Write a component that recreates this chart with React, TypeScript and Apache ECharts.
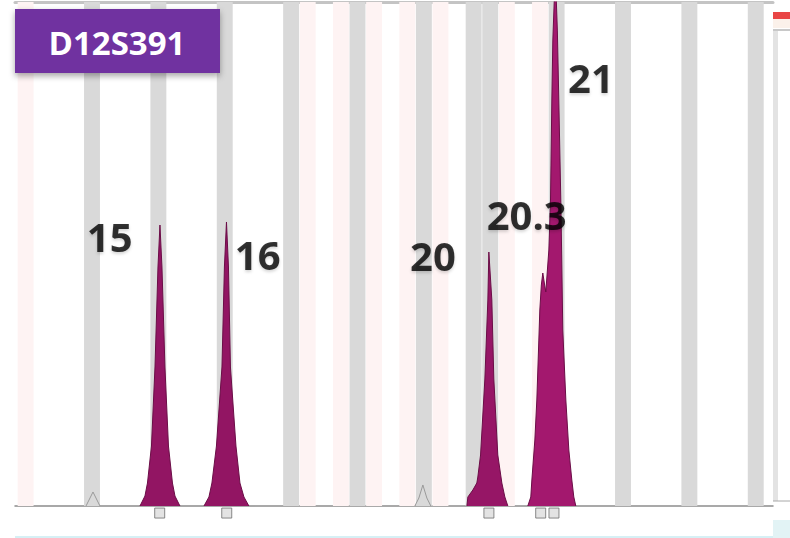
import React, { useEffect, useRef } from "react";
import * as echarts from "echarts";

// x in repeat units (allele scale), y in RFU
const xMin = 12.84;
const xMax = 24.26;
const yMin = -600;
const yMax = 10000;

const locusName = "D12S391";

const grayBins = ["14", "15", "16", "17", "18", "19", "19.3", "20", "21", "22", "23", "24"];
const pinkBins = ["13", "17.1", "17.3", "18.1", "18.3", "19.1", "20.1", "20.3"];

const peak15: [number, number][] = [
  [14.723, 0], [14.798, 198], [14.836, 456], [14.896, 1190], [14.949, 2758], [14.994, 4742],
  [15.024, 5575], [15.054, 4742], [15.099, 2758], [15.152, 1190], [15.212, 456], [15.25, 198], [15.325, 0],
];
const peak16: [number, number][] = [
  [15.687, 0], [15.762, 179], [15.807, 456], [15.875, 1190], [15.958, 2758], [15.995, 4742],
  [16.026, 5635], [16.056, 4742], [16.086, 2758], [16.169, 1190], [16.229, 456], [16.289, 179], [16.364, 0],
];
const peak20: [number, number][] = [
  [19.648, 0], [19.663, 179], [19.738, 317], [19.798, 456], [19.813, 575], [19.854, 1012], [19.919, 2520],
  [19.964, 4087], [19.979, 5039], [20.024, 4087], [20.054, 2520], [20.114, 1012], [20.175, 456], [20.22, 179], [20.265, 0],
];
const peak20_3and21: [number, number][] = [
  [20.566, 0], [20.611, 179], [20.627, 516], [20.672, 1309], [20.702, 2103], [20.732, 3293], [20.747, 3889],
  [20.77, 4385], [20.792, 4623], [20.815, 4424], [20.837, 4246], [20.883, 5079], [20.908, 6071], [20.928, 8055],
  [20.943, 9245], [20.98, 10600], [21.011, 9443], [21.033, 8055], [21.063, 6071], [21.075, 5079], [21.093, 3492],
  [21.139, 2103], [21.184, 1111], [21.229, 516], [21.259, 179], [21.289, 0],
];
const stutter14: [number, number][] = [[13.91, 0], [13.97, 159], [14.015, 278], [14.06, 159], [14.12, 0]];
const stutter19: [number, number][] = [[18.864, 0], [18.925, 159], [18.985, 417], [19.045, 159], [19.105, 0]];

const calledAlleles = ["15", "16", "20", "20.3", "21"];
const calledPositions = [15.02, 16.03, 19.98, 20.76, 20.96];
const calledHeights = [5575, 5635, 5039, 4623, 10600];

const labelOffsets: [number, number][] = [[-50, 11], [31, 33], [-56, 3], [-14, -59], [37, 106]];

function alleleToX(name: string): number {
  const [i, d] = name.split(".");
  return Number(i) + (d ? Number(d) / 4 : 0);
}

const binHalf = 0.12;

export default function App() {
  const ref = useRef<HTMLDivElement>(null);
  useEffect(() => {
    if (!ref.current) return;
    const chart = echarts.init(ref.current, null, { renderer: "svg" });

    const binAreas = [
      ...pinkBins.map((b) => [
        { xAxis: alleleToX(b) - binHalf, yAxis: 0, itemStyle: { color: "#FEF3F3" } },
        { xAxis: alleleToX(b) + binHalf, yAxis: yMax },
      ]),
      ...grayBins.map((b) => [
        { xAxis: alleleToX(b) - binHalf, yAxis: 0, itemStyle: { color: "#D9D9D9" } },
        { xAxis: alleleToX(b) + binHalf, yAxis: yMax },
      ]),
    ];

    const peakSeries = (name: string, data: [number, number][], fill: string) => ({
      name,
      type: "line",
      data,
      symbol: "none",
      smooth: false,
      z: 4,
      lineStyle: { color: "#6B0D47", width: 1 },
      areaStyle: { color: fill, opacity: 1, origin: "auto" },
      silent: true,
    });

    chart.setOption({
      animation: false,
      backgroundColor: "#ffffff",
      grid: { left: 15, right: 17, top: 2, bottom: 1.76 },
      xAxis: [
        {
          type: "value",
          min: xMin,
          max: xMax,
          axisLine: { show: true, onZero: true, lineStyle: { color: "#8C8C8C", width: 1.5 } },
          axisTick: { show: false },
          axisLabel: { show: false },
          splitLine: { show: false },
        },
        {
          type: "value",
          position: "top",
          min: xMin,
          max: xMax,
          axisLine: { show: true, onZero: false, lineStyle: { color: "#C4C4C4", width: 3 } },
          axisTick: { show: false },
          axisLabel: { show: false },
          splitLine: { show: false },
        },
      ],
      yAxis: {
        type: "value",
        min: yMin,
        max: yMax,
        show: false,
        splitLine: { show: false },
      },
      series: [
        {
          name: "bins",
          type: "line",
          data: [[xMin, 0], [xMax, 0]],
          symbol: "none",
          lineStyle: { opacity: 0 },
          silent: true,
          z: 1,
          markArea: { silent: true, data: binAreas },
        },
        {
          name: "stutter",
          type: "line",
          data: stutter14,
          symbol: "none",
          lineStyle: { color: "#9A9A9A", width: 1 },
          z: 3,
          silent: true,
        },
        {
          name: "stutter19",
          type: "line",
          data: stutter19,
          symbol: "none",
          lineStyle: { color: "#9A9A9A", width: 1 },
          z: 3,
          silent: true,
        },
        peakSeries("15", peak15, "#921563"),
        peakSeries("16", peak16, "#921563"),
        peakSeries("20", peak20, "#961666"),
        peakSeries("20.3/21", peak20_3and21, "#A3186E"),
        {
          name: "markers",
          type: "scatter",
          symbol: "rect",
          symbolSize: [10, 10],
          data: calledPositions.map((x) => [x, -140]),
          itemStyle: { color: "#DCDCDC", borderColor: "#6E6E6E", borderWidth: 1 },
          z: 5,
          silent: true,
        },
        {
          name: "labels",
          type: "scatter",
          symbolSize: 0,
          clip: false,
          z: 10,
          silent: true,
          data: calledAlleles.map((a, i) => ({
            value: [calledPositions[i], calledHeights[i]],
            label: {
              show: true,
              formatter: a,
              position: "inside",
              offset: labelOffsets[i],
              fontFamily: "Open Sans",
              fontWeight: 700,
              fontSize: 40,
              color: "#000000",
              textShadowColor: "rgba(0,0,0,0.2)",
              textShadowBlur: 3,
              textShadowOffsetY: 2,
            },
          })),
        },
      ],
      graphic: [
        { type: "line", shape: { x1: 15, y1: 537, x2: 773, y2: 537 }, style: { stroke: "#D6F0F5", lineWidth: 2 }, silent: true },
        { type: "rect", shape: { x: 773, y: 12, width: 17, height: 7 }, style: { fill: "#E94545" }, silent: true },
        { type: "rect", shape: { x: 773, y: 19, width: 17, height: 9 }, style: { fill: "#FBF1EA" }, silent: true },
        { type: "rect", shape: { x: 773, y: 29, width: 17, height: 2 }, style: { fill: "#C8C8C8" }, silent: true },
        { type: "rect", shape: { x: 773, y: 31, width: 5, height: 470 }, style: { fill: "#E3E3E3" }, silent: true },
        { type: "line", shape: { x1: 773, y1: 501, x2: 790, y2: 501 }, style: { stroke: "#A8A8A8", lineWidth: 1 }, silent: true },
        { type: "rect", shape: { x: 773, y: 520, width: 17, height: 18 }, style: { fill: "#E2F3F5" }, silent: true },
        {
          type: "rect",
          shape: { x: 15, y: 9, width: 205, height: 64 },
          style: { fill: "#7030A0", shadowBlur: 6, shadowColor: "rgba(0,0,0,0.35)", shadowOffsetY: 3 },
          z: 100,
          silent: true,
        },
        {
          type: "text",
          x: 117,
          y: 42,
          z: 101,
          silent: true,
          style: {
            text: locusName,
            fill: "#ffffff",
            font: "bold 33px 'Open Sans'",
            textAlign: "center",
            textVerticalAlign: "middle",
          },
        },
      ],
    });
    return () => chart.dispose();
  }, []);
  return <div ref={ref} style={{ position: "fixed", left: 0, top: 0, width: 790, height: 538 }} />;
}
